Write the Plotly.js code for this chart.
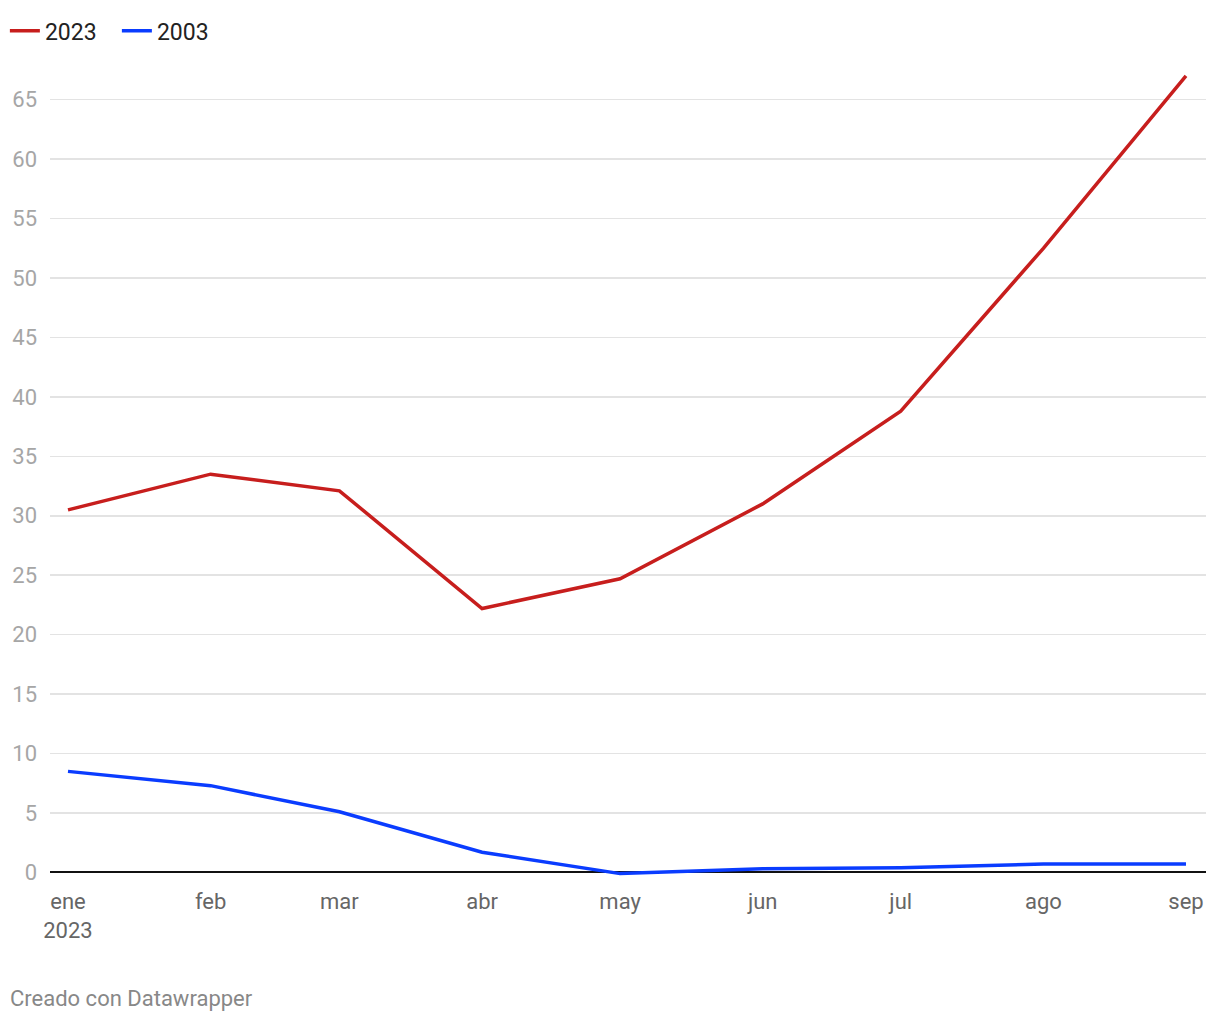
<!DOCTYPE html>
<html>
<head>
<meta charset="utf-8">
<script src="https://cdn.plot.ly/plotly-3.0.1.min.js"></script>
<style>
html,body{margin:0;padding:0;background:#fff;}
#chart{width:1220px;height:1020px;}
</style>
</head>
<body>
<div id="chart"></div>
<script>
const months = ['2023-01-01','2023-02-01','2023-03-01','2023-04-01','2023-05-01','2023-06-01','2023-07-01','2023-08-01','2023-09-01'];
const monthLabels = ['ene<br>2023','feb','mar','abr','may','jun','jul','ago','sep'];
const values2023 = [30.5, 33.5, 32.1, 22.2, 24.7, 31.0, 38.8, 52.5, 67.0];
const values2003 = [8.5, 7.3, 5.1, 1.7, -0.1, 0.3, 0.4, 0.7, 0.7];
const yTicks = [0,5,10,15,20,25,30,35,40,45,50,55,60,65];

const traces = [
  {x: months, y: values2023, name: '2023', type: 'scatter', mode: 'lines',
   line: {color: '#c71e1d', width: 3.5}},
  {x: months, y: values2003, name: '2003', type: 'scatter', mode: 'lines',
   line: {color: '#0a3cff', width: 3.5}}
];

const layout = {
  width: 1220, height: 1020,
  paper_bgcolor: '#fff', plot_bgcolor: '#fff',
  font: {family: 'Roboto, sans-serif', size: 22, color: '#222'},
  margin: {l: 50, r: 14, t: 64, b: 144},
  showlegend: true,
  legend: {orientation: 'h', x: 0.004, xref: 'container', y: 0.991, yref: 'container',
           xanchor: 'left', yanchor: 'top', font: {size: 23, color: '#222'},
           itemwidth: 30, entrywidth: 67, entrywidthmode: 'pixels',
           tracegroupgap: 0, traceorder: 'normal'},
  xaxis: {
    type: 'date',
    range: ['2022-12-28 02:10', '2023-09-05 08:24'],
    tickvals: months, ticktext: monthLabels,
    showgrid: false, zeroline: false, showline: false, ticks: '',
    ticklabelstandoff: 10,
    tickfont: {size: 22, color: '#666'},
    fixedrange: true
  },
  yaxis: {
    range: [-0.3, 68],
    tickvals: yTicks, ticktext: yTicks.map(String),
    showgrid: true, gridcolor: '#e3e3e3', gridwidth: 1.5,
    zeroline: true, zerolinecolor: '#111', zerolinewidth: 2,
    showline: false, ticks: '', ticklabelstandoff: 12,
    tickfont: {size: 22, color: '#a6a6a6'},
    fixedrange: true
  },
  annotations: [
    {text: 'Creado con Datawrapper', xref: 'paper', yref: 'paper',
     x: -0.036, y: 0, xanchor: 'left', yanchor: 'top', yshift: -108,
     showarrow: false, font: {size: 22, color: '#888'}}
  ]
};

Plotly.newPlot('chart', traces, layout, {displayModeBar: false, staticPlot: true});
</script>
</body>
</html>
